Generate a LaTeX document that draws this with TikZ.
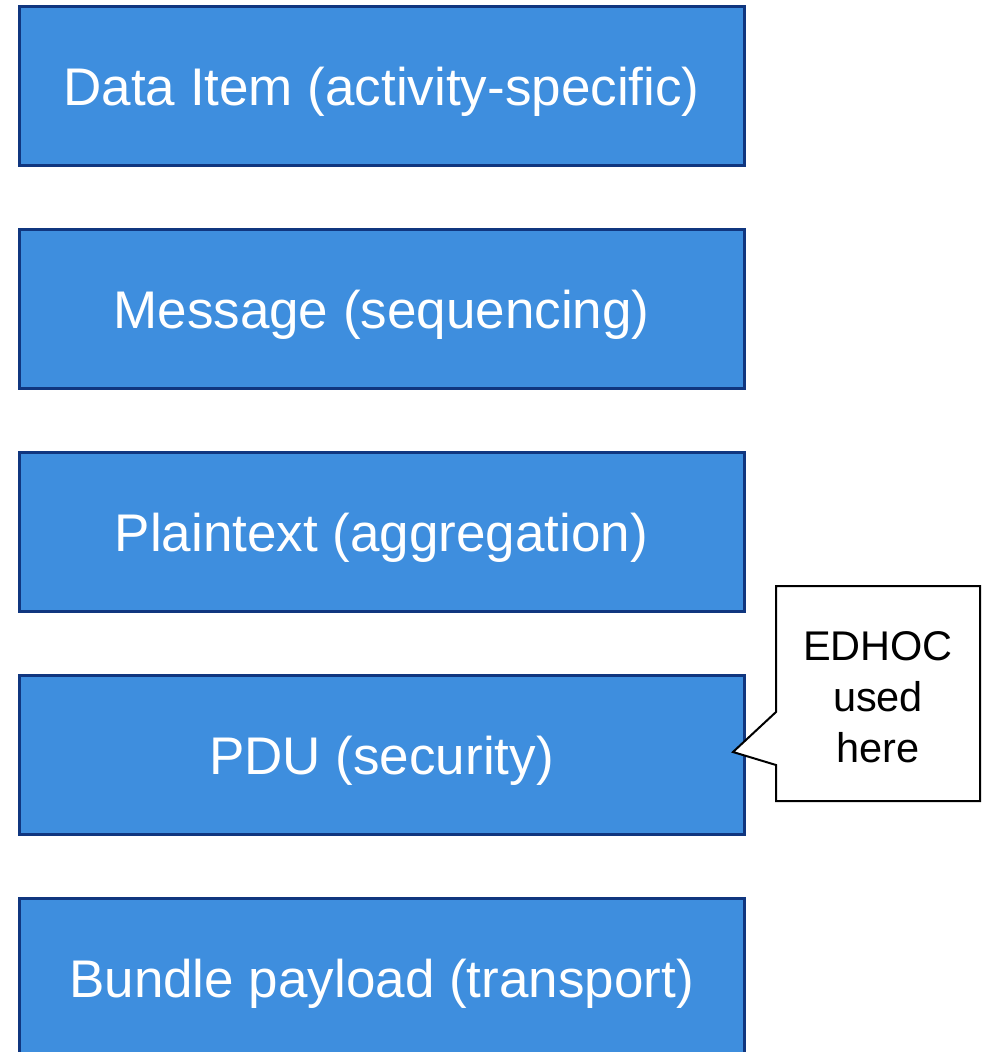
\documentclass[tikz,border=0pt]{standalone}
\usepackage{fontspec}
\setmainfont{Liberation Sans}
\definecolor{boxfill}{HTML}{3E8EDE}
\definecolor{boxline}{HTML}{10367F}
\begin{document}
\begin{tikzpicture}[x=1pt,y=-1pt,
  layerbox/.style={draw=boxline, line width=3pt, fill=boxfill, minimum width=725pt, minimum height=159pt, inner sep=0pt},
  layertext/.style={text=white, anchor=base, font=\fontsize{53}{60}\selectfont, inner sep=0pt},
  notetext/.style={text=black, align=center, font=\fontsize{41.5}{51}\selectfont, inner sep=0pt},
  noteline/.style={draw=black, line width=2pt, fill=white, line join=miter}]
\useasboundingbox (0,0) rectangle (992,1052);
\node[layerbox] (b1) at (381.5,85.5) {};
\node[layerbox] (b2) at (381.5,308.5) {};
\node[layerbox] (b3) at (381.5,531.5) {};
\node[layerbox] (b4) at (381.5,754.5) {};
\node[layerbox] (b5) at (381.5,977.5) {};
\node[layertext] (t1) at (381.5,105) {Data Item (activity-specific)};
\node[layertext] (t2) at (381.5,328) {Message (sequencing)};
\node[layertext] (t3) at (381.5,551) {Plaintext (aggregation)};
\node[layertext] (t4) at (381.5,774) {PDU (security)};
\node[layertext] (t5) at (381.5,997) {Bundle payload (transport)};
\coordinate (tip) at (733,752);
\draw[noteline] (776,586) -- (980,586) -- (980,801) -- (776,801) -- (776,765) -- (tip) -- (776,712) -- cycle;
\node[notetext] (note) at (878,697) {EDHOC\\used\\here};
\end{tikzpicture}
\end{document}
